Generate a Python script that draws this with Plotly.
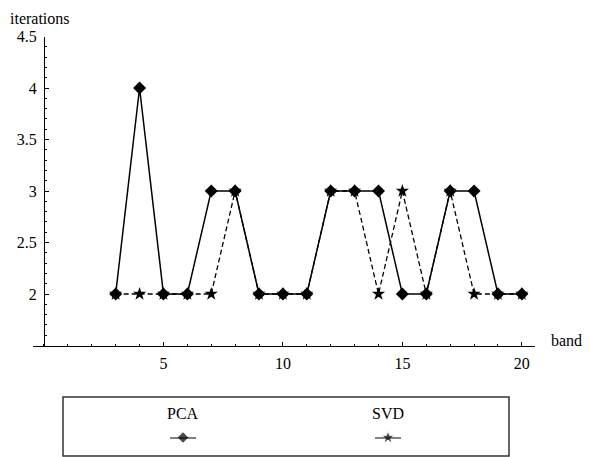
import plotly.graph_objects as go

bands = [3, 4, 5, 6, 7, 8, 9, 10, 11, 12, 13, 14, 15, 16, 17, 18, 19, 20]
pca = [2, 4, 2, 2, 3, 3, 2, 2, 2, 3, 3, 3, 2, 2, 3, 3, 2, 2]
svd = [2, 2, 2, 2, 2, 3, 2, 2, 2, 3, 3, 2, 3, 2, 3, 2, 2, 2]
series_names = ["PCA", "SVD"]
x_ticks = [5, 10, 15, 20]
y_ticks = [2, 2.5, 3, 3.5, 4, 4.5]

FONT = "Liberation Serif"
OFF = 8                       # page body margin of the browser
W, H = 590 - OFF, 457 - OFF
PL, PR, PT, PB = 33, 535, 36.5, 345.5   # plot area in window pixels
XR = [-0.46, 20.55]
YR = [1.5, 4.5]


def px(x):
    return (x - OFF) / W


def py(y):
    return (H - (y - OFF)) / H


fig = go.Figure()
fig.add_trace(go.Scatter(
    x=bands, y=svd, mode="lines+markers", name=series_names[1],
    line=dict(color="black", width=1.3, dash="5px,3px"),
    marker=dict(symbol="star", size=10, color="black"),
    showlegend=False, cliponaxis=False))
fig.add_trace(go.Scatter(
    x=bands, y=pca, mode="lines+markers", name=series_names[0],
    line=dict(color="black", width=1.5),
    marker=dict(symbol="diamond", size=10, color="black"),
    showlegend=False, cliponaxis=False))

# legend symbols on a hidden helper axis
fig.add_trace(go.Scatter(
    x=[0.2691, 0.7287], y=[0.3136, 0.3136], mode="markers",
    marker=dict(symbol=["diamond", "star"], size=[9, 10], color="black"),
    xaxis="x2", yaxis="y2", showlegend=False, hoverinfo="skip"))

y0_pos = PL + (0 - XR[0]) / (XR[1] - XR[0]) * (PR - PL)

fig.update_layout(
    width=W, height=H,
    margin=dict(l=0, r=0, t=0, b=0, autoexpand=False),
    paper_bgcolor="white", plot_bgcolor="white",
    font=dict(family=FONT, size=16, color="black"),
    xaxis=dict(
        domain=[px(PL), px(PR)], automargin=False,
        range=XR, showgrid=False, zeroline=False,
        showline=True, linecolor="black", linewidth=1,
        ticks="inside", ticklen=4, tickwidth=1, tickcolor="black",
        tickvals=x_ticks, ticktext=[str(v) for v in x_ticks],
        minor=dict(dtick=1, tick0=0, ticks="inside", ticklen=2, tickcolor="black"),
        tickfont=dict(family=FONT, size=16), ticklabelstandoff=3,
    ),
    yaxis=dict(
        domain=[py(PB), py(PT)], automargin=False,
        range=YR, showgrid=False, zeroline=False,
        anchor="free", position=px(y0_pos),
        showline=True, linecolor="black", linewidth=1,
        ticks="inside", ticklen=4, tickwidth=1, tickcolor="black",
        tickvals=y_ticks, ticktext=[f"{v:g}" for v in y_ticks],
        minor=dict(dtick=0.1, tick0=1.5, ticks="inside", ticklen=2, tickcolor="black"),
        tickfont=dict(family=FONT, size=16), ticklabelstandoff=4,
    ),
    xaxis2=dict(domain=[px(63), px(509)], range=[0, 1], visible=False,
                anchor="y2", automargin=False),
    yaxis2=dict(domain=[py(456), py(397)], range=[0, 1], visible=False,
                anchor="x2", automargin=False),
)

# axis labels
fig.add_annotation(text="iterations", xref="paper", yref="paper",
                   x=0, y=1, xanchor="left", yanchor="top",
                   showarrow=False, font=dict(family=FONT, size=16))
fig.add_annotation(text="bands", xref="paper", yref="paper",
                   x=1, y=py(341), xanchor="right", yanchor="middle",
                   showarrow=False, font=dict(family=FONT, size=16))

# legend box
fig.add_shape(type="rect", xref="paper", yref="paper",
              x0=px(63), x1=px(509), y0=py(456), y1=py(397),
              line=dict(color="#333333", width=1.5), fillcolor="rgba(0,0,0,0)")
for name, cx in zip(series_names, [183, 388]):
    fig.add_annotation(text=name, xref="paper", yref="paper",
                       x=px(cx), y=py(413), xanchor="center", yanchor="middle",
                       showarrow=False, font=dict(family=FONT, size=16))
    fig.add_shape(type="line", xref="paper", yref="paper",
                  x0=px(cx - 13), x1=px(cx + 13), y0=py(438), y1=py(438),
                  line=dict(color="black", width=1))

fig.write_html("out.html")
